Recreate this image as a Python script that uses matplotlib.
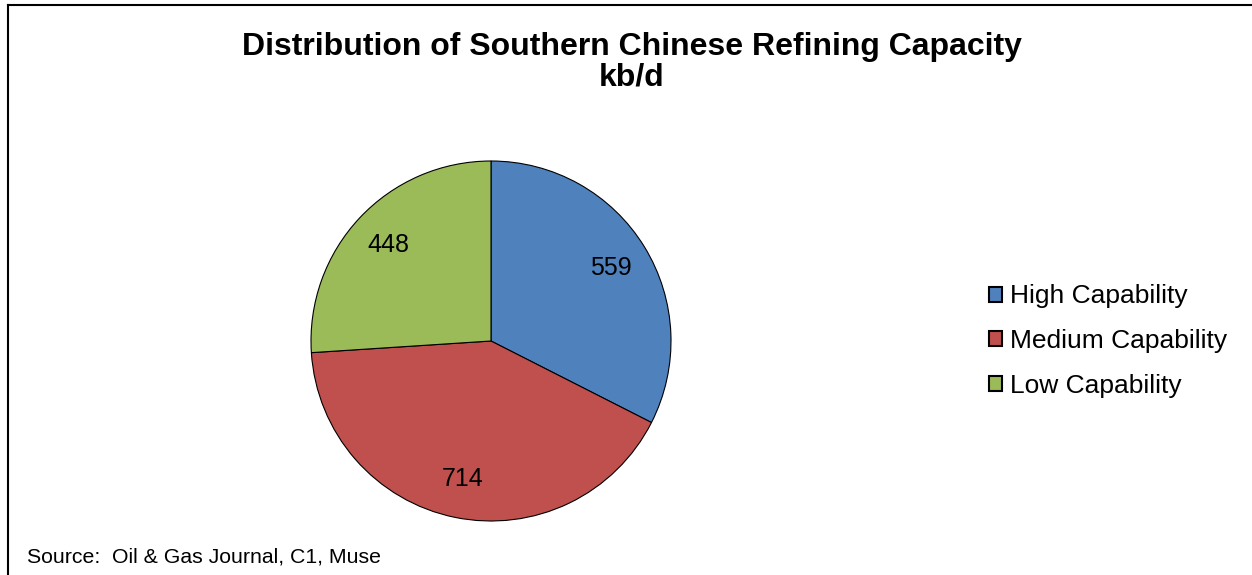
import matplotlib.pyplot as plt
from matplotlib.lines import Line2D

plt.rcParams['font.family'] = ['Liberation Sans', 'DejaVu Sans']

# data
categories = ['High Capability', 'Medium Capability', 'Low Capability']
capacity = [559, 714, 448]
colors = ['#4F81BD', '#C0504D', '#9BBB59']

W, H = 1252, 575
fig = plt.figure(figsize=(W / 100, H / 100), dpi=100)

# pie axes, centre at (491, 341) px, radius 180 px
cx, cy, r = 491, 341, 180
ax = fig.add_axes([(cx - r) / W, (H - cy - r) / H, 2 * r / W, 2 * r / H])
wedges, texts = ax.pie(capacity, colors=colors, startangle=90, counterclock=False,
                       labels=[str(v) for v in capacity], labeldistance=0.78,
                       wedgeprops=dict(edgecolor='black', linewidth=0.8),
                       textprops=dict(fontsize=18, ha='center', va='center'))
ax.set_xlim(-1, 1)
ax.set_ylim(-1, 1)

fig.text(632 / W, 1 - 47 / H, 'Distribution of Southern Chinese Refining Capacity',
         ha='center', va='center', fontsize=23, fontweight='bold')
fig.text(632 / W, 1 - 78 / H, 'kb/d', ha='center', va='center', fontsize=23, fontweight='bold')

leg = fig.legend(wedges, categories, loc='center left', bbox_to_anchor=(989 / W, 1 - 341 / H),
                 frameon=False, fontsize=19, handlelength=0.5, handleheight=0.5,
                 handletextpad=0.3, labelspacing=0.78, borderaxespad=0, borderpad=0)
for h in leg.legend_handles:
    h.set_edgecolor('black')
    h.set_linewidth(1.5)

fig.text(27 / W, 1 - 557 / H, 'Source:  Oil & Gas Journal, C1, Muse',
         ha='left', va='center', fontsize=15.3)

# frame lines along top and left
fig.add_artist(Line2D([8 / W, 1], [1 - 5 / H, 1 - 5 / H], color='black', lw=1.5))
fig.add_artist(Line2D([8 / W, 8 / W], [0, 1 - 5 / H], color='black', lw=1.5))

fig.savefig('out.png', dpi=100)
